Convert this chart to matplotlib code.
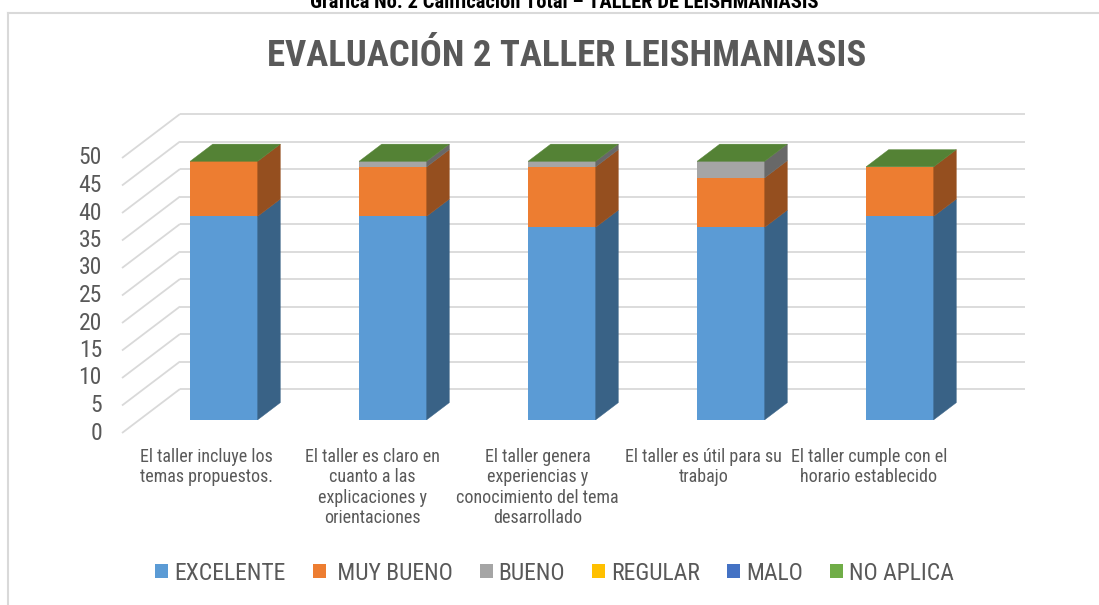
import matplotlib
matplotlib.use("Agg")
import matplotlib.pyplot as plt
from matplotlib.patches import Polygon, Patch
from matplotlib.lines import Line2D
import numpy as np

# datos
categories = [
    "El taller incluye los\ntemas propuestos.",
    "El taller es claro en\ncuanto a las\nexplicaciones y\norientaciones",
    "El taller genera\nexperiencias y\nconocimiento del tema\ndesarrollado",
    "El taller es útil para su\ntrabajo",
    "El taller cumple con el\nhorario establecido",
]
series_names = ["EXCELENTE", " MUY BUENO", "BUENO", "REGULAR", "MALO", "NO APLICA"]
excelente = [37, 37, 35, 35, 37]
muy_bueno = [10, 9, 11, 9, 9]
bueno = [0, 1, 1, 3, 0]
regular = [0, 0, 0, 0, 0]
malo = [0, 0, 0, 0, 0]
no_aplica = [0, 0, 0, 0, 0]
y_ticks = [0, 5, 10, 15, 20, 25, 30, 35, 40, 45, 50]

series = [excelente, muy_bueno, bueno, regular, malo, no_aplica]
colors = ["#5B9BD5", "#ED7D31", "#A5A5A5", "#FFC000", "#4472C4", "#70AD47"]

FONT = ["Roboto Condensed", "Liberation Sans", "DejaVu Sans"]
TXT = "#595959"
GRID = "#D9D9D9"

# geometria (pixeles de la imagen)
W, H = 1099, 605
PX_X, PX_Y = 169.0, 5.5
X0_PX, Y0_PX = 206.5, 433.0
DX, DY = 58.0 / PX_X, 8.0
BAR_W = 0.4
Z0, Z1 = 0.3, 0.69


def shade(c, f):
    r, g, b = matplotlib.colors.to_rgb(c)
    return (r * f, g * f, b * f)


fig = plt.figure(figsize=(W / 100, H / 100), dpi=100)
ax = fig.add_axes([0, 0, 1, 1])
ax.set_xlim(-X0_PX / PX_X, (W - X0_PX) / PX_X)
ax.set_ylim((Y0_PX - H) / PX_Y, Y0_PX / PX_Y)
ax.axis("off")

n = len(categories)
x = np.arange(n)

# paredes y lineas de division
for v in y_ticks:
    ax.plot([-0.5, -0.5 + DX], [v, v + DY], color=GRID, lw=1.3, zorder=1,
            solid_capstyle="butt")
    ax.plot([-0.5 + DX, n - 0.5 + DX], [v + DY, v + DY], color=GRID, lw=1.3,
            zorder=1, solid_capstyle="butt")
    ax.text(-0.5 - 20 / PX_X, v, str(v), ha="right", va="center",
            fontsize=17, color=TXT, family=FONT)

# barras 3D (cara frontal con ax.bar, lateral y superior con poligonos)
d = Z1 - Z0
xs = x + Z0 * DX
bottom = np.zeros(n)
handles = []
for vals, col, name in zip(series, colors, series_names):
    vals = np.array(vals, dtype=float)
    ax.bar(xs, vals, bottom=bottom + Z0 * DY, width=BAR_W, color=col,
           linewidth=0, zorder=3)
    for i in range(n):
        if vals[i] <= 0:
            continue
        xr = xs[i] + BAR_W / 2
        b = bottom[i] + Z0 * DY
        t = b + vals[i]
        ax.add_patch(Polygon([(xr, b), (xr + d * DX, b + d * DY),
                              (xr + d * DX, t + d * DY), (xr, t)],
                             closed=True, facecolor=shade(col, 0.63),
                             edgecolor=shade(col, 0.63), lw=0.3, zorder=3))
    bottom = bottom + vals
    handles.append(Patch(facecolor=col, label=name))

top_col = shade(colors[-1], 0.75)
for i in range(n):
    xl = xs[i] - BAR_W / 2
    xr = xs[i] + BAR_W / 2
    t = bottom[i] + Z0 * DY
    ax.add_patch(Polygon([(xl, t), (xr, t), (xr + d * DX, t + d * DY),
                          (xl + d * DX, t + d * DY)], closed=True,
                         facecolor=top_col, edgecolor=top_col, lw=0.3, zorder=4))

# etiquetas de categorias
for i, lab in enumerate(categories):
    ax.text(i * 0.98, (Y0_PX - 448) / PX_Y, lab, ha="center", va="top",
            fontsize=13, color=TXT, family=FONT, linespacing=1.17)

# titulos
fig.text(564 / W, 1 - 8 / H, "Grafica No. 2 Calificación Total – TALLER DE LEISHMANIASIS",
         ha="center", va="baseline", fontsize=14.8, fontweight="bold",
         color="black", family=FONT)
fig.text(567 / W, 1 - 66 / H, "EVALUACIÓN 2 TALLER LEISHMANIASIS",
         ha="center", va="baseline", fontsize=26.5, fontweight="bold",
         color=TXT, family=FONT)

# marco del grafico
fig.add_artist(Line2D([8 / W, 1], [1 - 13 / H, 1 - 13 / H], color=GRID, lw=1.5))
fig.add_artist(Line2D([8 / W, 8 / W], [0, 1 - 13 / H], color=GRID, lw=1.5))

leg = fig.legend(handles=handles, loc="center", bbox_to_anchor=(554.5 / W, 1 - 573 / H),
                 ncol=6, frameon=False, handlelength=0.55, handleheight=0.55,
                 handletextpad=0.25, columnspacing=1.15,
                 prop={"family": FONT, "size": 17})
for t in leg.get_texts():
    t.set_color(TXT)

fig.savefig("out.png", dpi=100)
